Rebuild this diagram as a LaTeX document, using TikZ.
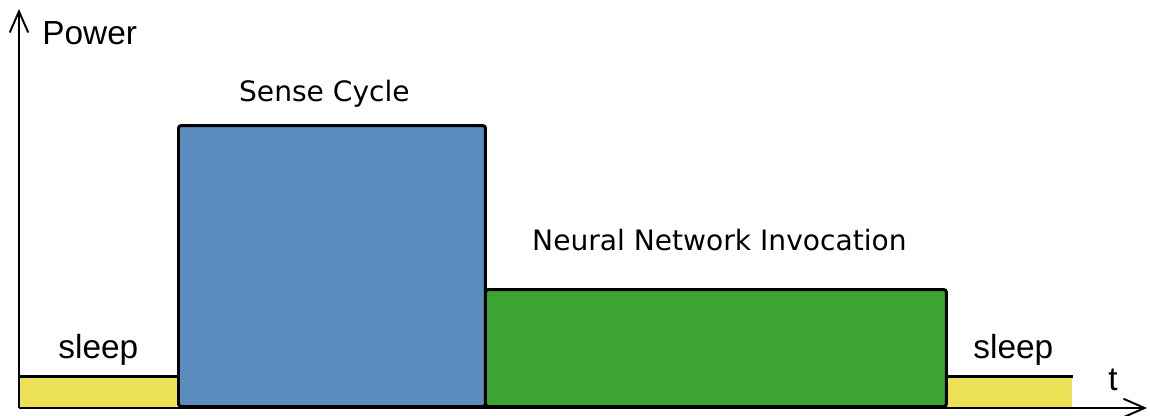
\documentclass[tikz,border=0pt]{standalone}
\usepackage{fontspec}
\setmainfont{Liberation Sans}
\newfontfamily\phasefont{DejaVu Sans}
\usepackage{tikz}
\usetikzlibrary{arrows.meta, positioning}
\definecolor{sleepyellow}{RGB}{236, 224, 86}
\definecolor{senseblue}{RGB}{92, 139, 190}
\definecolor{nngreen}{RGB}{60, 165, 50}

\begin{document}
\begin{tikzpicture}[
  x=0.02cm, y=0.02cm,
  bar/.style={
    rectangle, inner sep=0pt, anchor=south west,
    draw=black, line width=1.7pt, rounded corners=1.5pt
  },
  sleepbar/.style={rectangle, inner sep=0pt, anchor=south west, fill=sleepyellow},
  axis/.style={-{Straight Barb[length=12pt, width=10.5pt]}, line width=1.1pt},
  lbl/.style={inner sep=0pt, font=\fontsize{19}{22}\selectfont},
  phase/.style={inner sep=0pt, font=\phasefont\fontsize{16}{19}\selectfont}
]
  \useasboundingbox (0,0) rectangle (1150,416);

  % power profile
  \node[sleepbar, minimum width=3.16cm, minimum height=0.62cm] (sleepA) at (19,8) {};
  \node[sleepbar, minimum width=2.54cm, minimum height=0.62cm] (sleepB) at (945,8) {};
  \draw[line width=1.7pt] (sleepA.north west) -- (sleepA.north east);
  \draw[line width=1.7pt] (sleepB.north west) -- (sleepB.north east);
  \node[bar, fill=senseblue, minimum width=6.14cm, minimum height=5.62cm] (sense) at (177,8) {};
  \node[bar, fill=nngreen, minimum width=9.22cm, minimum height=2.34cm] (nn) at (484,8) {};

  % axes
  \coordinate (origin) at (19,8);
  \coordinate (ytip) at (19,407);
  \coordinate (xtip) at (1147,8);
  \draw[axis] (origin) -- (ytip);
  \draw[axis] (origin) -- (xtip);

  % labels
  \node[lbl, anchor=base west] (power) at (42,371) {Power};
  \node[lbl, anchor=base] (tlabel) at (1113,26) {t};
  \node[phase, above=0.46cm of sense.north, xshift=-0.15cm, anchor=base] (senselbl) {Sense Cycle};
  \node[phase, above=0.76cm of nn.north, xshift=0.07cm, anchor=base] (nnlbl) {Neural Network Invocation};
  \node[lbl, above=0.36cm of sleepA.north, anchor=base] (sleeplblA) {sleep};
  \node[lbl, above=0.36cm of sleepB.north, xshift=0.09cm, anchor=base] (sleeplblB) {sleep};
\end{tikzpicture}
\end{document}
